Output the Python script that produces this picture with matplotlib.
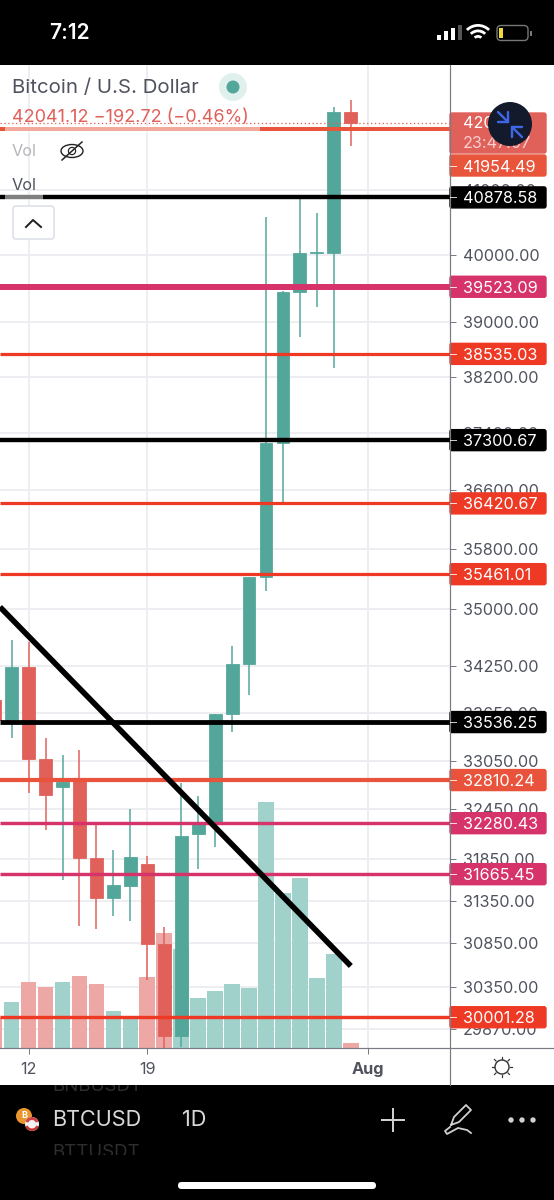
import matplotlib
matplotlib.use("Agg")
import matplotlib.pyplot as plt
from matplotlib.patches import Rectangle, FancyBboxPatch, Circle, Ellipse, Wedge
from matplotlib.ticker import FixedLocator, FixedFormatter, NullLocator

plt.rcParams['font.family'] = ['Inter', 'DejaVu Sans']

# ---- data (days counted from 12 Jul) ----
days   = [-2, -1, 0, 1, 2, 3, 4, 5, 6, 7, 8, 9, 10, 11, 12, 13, 14, 15, 16, 17, 18, 19]
opens  = [33817, 33562, 34240, 33072, 32724, 32823, 31859, 31381, 31524, 31788, 30842, 29791, 32149,
          32283, 33638, 34279, 35423, 37260, 39445, 40030, 40030, 42218]
closes = [33562, 34240, 33072, 32623, 32786, 31859, 31381, 31535, 31871, 30842, 29791, 32125, 32271,
          33638, 34279, 35423, 37260, 39445, 40030, 40040, 42218, 42041]
highs  = [34300, 34591, 34565, 33335, 33122, 33185, 32258, 31956, 32454, 31884, 31040, 32774, 32613,
          33638, 34513, 35423, 40578, 39460, 40916, 40639, 42298, 42409]
lows   = [33400, 33335, 32651, 32199, 31596, 31051, 31017, 31169, 31110, 30426, 29655, 29667, 31727,
          31992, 33411, 33880, 35237, 36426, 38781, 39223, 38330, 41680]
volumes = [31, 46, 66, 61, 66, 72, 64, 37, 30, 71, 115, 99, 50, 57, 64, 60, 246, 155, 170, 70, 94, 5]

price_ticks = [41000, 40000, 39000, 38200, 37400, 36600, 35800, 35000, 34250, 33650,
               33050, 32450, 31850, 31350, 30850, 30350, 29870]
price_tick_labels = ['%d.00' % p for p in price_ticks]

date_ticks = [0, 7, 20]
date_labels = ['12', '19', 'Aug']

level_prices = [41954.49, 40878.58, 39523.09, 38535.03, 37300.67, 36420.67, 35461.01,
                33536.25, 32810.24, 32280.43, 31665.45, 30001.28]
level_labels = ['41954.49', '40878.58', '39523.09', '38535.03', '37300.67', '36420.67', '35461.01',
                '33536.25', '32810.24', '32280.43', '31665.45', '30001.28']
level_colors = ['#e8553b', '#000000', '#d6336a', '#ee3a25', '#000000', '#ee3a25', '#ee3a25',
                '#000000', '#e9533c', '#d6336a', '#d6336a', '#ee3a25']
level_widths = [4, 4.4, 6, 3.2, 4.4, 3.2, 3.2, 4.8, 4.2, 3.4, 3.4, 3.4]

trend_x = [-1.686, 19.0]
trend_y = [35024, 30587]

last_price = 42041.12

UP, DOWN = '#53a69a', '#e0605a'
UP_V, DOWN_V = '#a0d1cb', '#eda8a5'
INK = '#50535e'
GRID = '#eceef2'
W, H = 554, 1200
PX = 0.72

fig = plt.figure(figsize=(W / 100, H / 100), dpi=100, facecolor='black')
rect = [0, (H - 1048) / H, 450 / W, (1048 - 65) / H]
XLIM = (-1.686, 24.85)
YLIM = (29655, 42973)

def full(z):
    a = fig.add_axes([0, 0, 1, 1], zorder=z)
    a.set_xlim(0, W); a.set_ylim(H, 0); a.axis('off')
    a.patch.set_alpha(0)
    return a

bg = full(0)
bg.add_patch(Rectangle((0, 65), W, 1020, fc='white', ec='none'))

# grid + axis labels
ax_g = fig.add_axes(rect, zorder=1)
ax_g.patch.set_alpha(0)
ax_g.set_yscale('log'); ax_g.set_xlim(*XLIM); ax_g.set_ylim(*YLIM)
ax_g.yaxis.tick_right()
ax_g.yaxis.set_major_locator(FixedLocator(price_ticks))
ax_g.yaxis.set_major_formatter(FixedFormatter(price_tick_labels))
ax_g.yaxis.set_minor_locator(NullLocator())
ax_g.set_xticks(date_ticks); ax_g.set_xticklabels(date_labels)
ax_g.tick_params(axis='y', length=6 * PX, width=1 * PX, color='#787b86', labelcolor=INK, labelsize=11.7, pad=5)
ax_g.tick_params(axis='x', length=6 * PX, width=1 * PX, color='#787b86', labelcolor=INK, labelsize=11.7, pad=6)
ax_g.get_xticklabels()[2].set_fontweight('bold')
ax_g.grid(True, color=GRID, lw=2 * PX)
for s in ax_g.spines.values():
    s.set_visible(False)

# volume
ax_v = fig.add_axes(rect, zorder=2)
ax_v.patch.set_alpha(0)
ax_v.set_xlim(*XLIM); ax_v.set_ylim(0, 983); ax_v.axis('off')
ax_v.bar(days, volumes, width=0.92, color=[UP_V if c >= o else DOWN_V for o, c in zip(opens, closes)])

# candles and levels
ax = fig.add_axes(rect, zorder=3)
ax.patch.set_alpha(0)
ax.set_yscale('log'); ax.set_xlim(*XLIM); ax.set_ylim(*YLIM)
ax.axis('off')
cols = [UP if c >= o else DOWN for o, c in zip(opens, closes)]
ax.vlines(days, lows, highs, colors=cols, lw=1.5 * PX, zorder=2)
ax.bar(days, [abs(c - o) for o, c in zip(opens, closes)], bottom=[min(o, c) for o, c in zip(opens, closes)],
       width=0.76, color=cols, edgecolor=cols, lw=0.8 * PX, zorder=3)
ax.axhline(last_price, color=DOWN, lw=1.3 * PX, ls=(0, (1, 2)), zorder=4)
for p, c, w in zip(level_prices, level_colors, level_widths):
    ax.axhline(p, color=c, lw=w * PX, zorder=5, solid_capstyle='butt')
ax.plot(trend_x, trend_y, color='black', lw=5.6 * PX, zorder=6, solid_capstyle='butt')

# ---- overlay chrome in pixels ----
ov = full(5)
def py(p):
    return H - ax.transData.transform((0, p))[1]

ov.add_patch(Rectangle((5, py(41954.49) - 3), 255, 6, fc='white', alpha=0.5, ec='none'))
ov.add_patch(Rectangle((5, py(40878.58) - 3), 38, 6, fc='white', alpha=0.5, ec='none'))

ov.plot([450, 450], [65, 1085], color='#787b86', lw=1.2 * PX)
ov.plot([0, W], [1048, 1048], color='#787b86', lw=1.2 * PX)

def box(y0, y1, c):
    ov.add_patch(FancyBboxPatch((450, y0 + 1), 96, y1 - y0 - 2, boxstyle='round,pad=0,rounding_size=2',
                                fc=c, ec=c, lw=1))

box(112, 154, DOWN)
ov.text(463, 124, '42041.12', color='white', fontsize=11.7, va='center', ha='left')
ov.text(463, 143, '23:47:07', color='#f6cfcd', fontsize=11.7, va='center', ha='left')
for p, lab, c in zip(level_prices, level_labels, level_colors):
    y = py(p)
    if lab == '41954.49':
        y = 165.5   # label pushed below the live-price tag, as in the app
    box(y - 11.5, y + 11.5, c)
    ov.plot([450, 456], [y, y], color='white', lw=1 * PX, alpha=0.8)
    ov.text(463, y, lab, color='white', fontsize=11.7, va='center_baseline', ha='left')

# collapse icon
ov.add_patch(Circle((510, 124), 22, fc='#121a2b', ec='none', zorder=6))
blue = '#3f66e8'
for pts in ([(498, 112), (508, 122)], [(498, 122), (508, 122)], [(508, 112), (508, 122)],
            [(522, 137), (512, 127)], [(512, 127), (522, 127)], [(512, 127), (512, 137)]):
    ov.plot(*zip(*pts), color=blue, lw=2.4 * PX, zorder=7, solid_capstyle='round')

# legend
ov.text(12, 88, 'Bitcoin / U.S. Dollar', color=INK, fontsize=14.7, va='center', ha='left')
ov.add_patch(Circle((233, 87), 14, fc='#e0f0ed', ec='none'))
ov.add_patch(Circle((233, 87), 6.5, fc=UP, ec='none'))
ov.text(12, 118, '42041.12 \u2212192.72 (\u22120.46%)', color=DOWN, fontsize=13, va='center', ha='left')
ov.text(12, 151, 'Vol', color='#b4b6bb', fontsize=11.7, va='center', ha='left')
ov.text(12, 186, 'Vol', color=INK, fontsize=11.7, va='center', ha='left')
ov.add_patch(Ellipse((72, 151), 22, 13, fc='none', ec='#222', lw=1.4 * PX))
ov.add_patch(Circle((72, 151), 3.6, fc='none', ec='#222', lw=1.2 * PX))
ov.plot([62, 82], [160, 142], color='#222', lw=1.5 * PX)
ov.add_patch(FancyBboxPatch((13, 206), 41, 33, boxstyle='round,pad=0,rounding_size=3',
                            fc='white', ec='#e0e3eb', lw=1.3))
ov.plot([26, 33, 41], [227, 220, 227], color='#222', lw=2 * PX)

# settings icon
ov.add_patch(Circle((502, 1067), 7, fc='none', ec='#333', lw=1.4 * PX))
for dx, dy in [(0, -10), (0, 10), (-10, 0), (10, 0), (-7.5, -7.5), (7.5, -7.5), (-7.5, 7.5), (7.5, 7.5)]:
    ov.plot([502 + dx * 0.8, 502 + dx], [1067 + dy * 0.8, 1067 + dy], color='#333', lw=1.2 * PX)

# status bar
ov.text(69, 33, '7:12', color='white', fontsize=15, fontweight='semibold', va='center', ha='center')
for x, top, c in [(437, 35, 'white'), (444, 31, 'white'), (451, 28, 'white'), (458, 25, '#555')]:
    ov.add_patch(Rectangle((x, top), 4.4, 40 - top, fc=c, ec='none'))
for r in (17, 11.5, 6):
    ov.add_patch(Wedge((478, 41), r, 225, 315, width=2.8, fc='white', ec='none'))
ov.add_patch(FancyBboxPatch((497, 25.5), 31, 15, boxstyle='round,pad=0,rounding_size=4', fc='none', ec='#777', lw=1))
ov.add_patch(Rectangle((499, 28), 4, 10, fc='#f0d93c', ec='none'))
ov.add_patch(Rectangle((530, 30.5), 1.6, 5, fc='#777', ec='none'))

# bottom bar
t1 = ov.text(52, 1086.5, 'BNBUSDT', color='#2e2e2e', fontsize=13.5, va='center', ha='left')
t1.set_clip_path(Rectangle((0, 1085), W, 40, transform=ov.transData))
t1.set_clip_on(True)
t2 = ov.text(52, 1152.5, 'BTTUSDT', color='#2e2e2e', fontsize=13.5, va='center', ha='left')
t2.set_clip_path(Rectangle((0, 1125), W, 30, transform=ov.transData))
t2.set_clip_on(True)
ov.add_patch(Circle((24, 1116), 8, fc='#e9962f', ec='none'))
ov.text(24, 1116, 'B', color='white', fontsize=6.5, fontweight='bold', ha='center', va='center')
ov.add_patch(Circle((32, 1124), 7, fc='#f2f2f2', ec='none', zorder=4))
ov.add_patch(Wedge((32, 1124), 7, 20, 160, width=2.5, fc='#c33', ec='none', zorder=5))
ov.add_patch(Wedge((32, 1124), 7, 200, 340, width=3, fc='#c44', ec='none', zorder=5))
ov.text(52, 1120, 'BTCUSD', color='#d8d8d8', fontsize=15.6, va='center', ha='left')
ov.text(182, 1120, '1D', color='#d8d8d8', fontsize=15.6, va='center', ha='left')
ov.plot([382, 404], [1120, 1120], color='#d0d0d0', lw=2 * PX)
ov.plot([393, 393], [1109, 1131], color='#d0d0d0', lw=2 * PX)
ov.plot([451, 454, 466, 471, 459, 451], [1125, 1117, 1105, 1110, 1122, 1125], color='#d0d0d0', lw=1.8 * PX)
ov.plot([450, 445, 447, 458, 467, 471], [1127, 1131, 1134, 1128, 1130, 1133], color='#d0d0d0', lw=1.8 * PX)
for x in (511, 522, 533):
    ov.add_patch(Circle((x, 1120), 2.7, fc='#d0d0d0', ec='none'))
ov.add_patch(FancyBboxPatch((178, 1182), 198, 7, boxstyle='round,pad=0,rounding_size=3.5', fc='white', ec='none'))

fig.savefig('out.png', dpi=100, facecolor='black')
